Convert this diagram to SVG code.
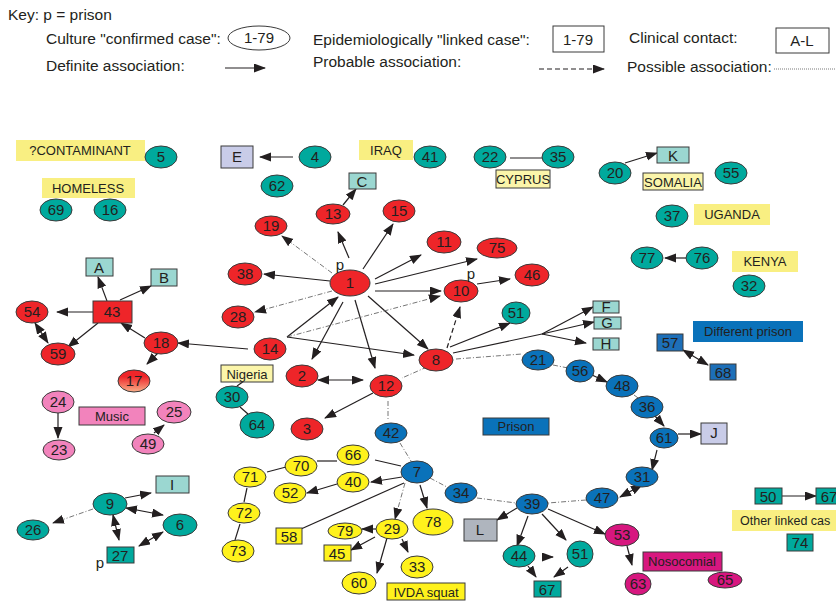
<svg xmlns="http://www.w3.org/2000/svg" width="836" height="604" viewBox="0 0 836 604">
<defs>
<marker id="ah" markerWidth="12" markerHeight="10" refX="11" refY="4.5" orient="auto-start-reverse" markerUnits="userSpaceOnUse"><path d="M0,0 L12,4.5 L0,9 z" fill="#231F20"/></marker>
<linearGradient id="g17" x1="0" y1="0" x2="0" y2="1"><stop offset="0.3" stop-color="#EE2529"/><stop offset="1" stop-color="#F9B08A"/></linearGradient>
</defs>
<style>
text{font-family:"Liberation Sans",Arial,sans-serif;fill:#231F20}
.k{font-size:15.5px}
.n{font-size:15px;text-anchor:middle}
.l{font-size:13px;text-anchor:middle}
ellipse,.bx{stroke:#3a3a3a;stroke-width:1}
.r{fill:#EE2529}.t{fill:#00A99D}.b{fill:#0A72BA}.y{fill:#FFF21C}.pk{fill:#F283BC}.mg{fill:#D7177F}
.lt{fill:#9BD7D1}.lv{fill:#C9CCE8}.gr{fill:#AFB5BE}.bb{fill:#1D6FB8}
.hl{fill:#F9EF82}
.cy{fill:#FBF5AA;stroke:#3a3a3a;stroke-width:1}
.ln{stroke:#231F20;stroke-width:1.2;fill:none}
.a{marker-end:url(#ah)}
.d{marker-start:url(#ah);marker-end:url(#ah)}
.pr{stroke-dasharray:5 3}
.ps{stroke:#666;stroke-width:0.9;stroke-dasharray:5 2 1 2}
</style>

<g id="key">
<text class="k" x="8" y="20">Key: p = prison</text>
<text class="k" x="46" y="44">Culture "confirmed case":</text>
<ellipse cx="259" cy="38" rx="31" ry="12" fill="#fff"/>
<text class="n" x="259" y="43">1-79</text>
<text class="k" x="313" y="45">Epidemiologically "linked case":</text>
<rect x="553" y="26" width="51" height="26" fill="#fff" stroke="#3a3a3a"/>
<text class="n" x="578" y="45">1-79</text>
<text class="k" x="629" y="43">Clinical contact:</text>
<rect x="776" y="28" width="53" height="25" fill="#fff" stroke="#3a3a3a"/>
<text class="n" x="802" y="46">A-L</text>
<text class="k" x="46" y="71">Definite association:</text>
<line class="ln a" x1="225" y1="68" x2="265" y2="68"/>
<text class="k" x="313" y="67">Probable association:</text>
<line class="ln a pr" x1="539" y1="69" x2="604" y2="69"/>
<text class="k" x="627" y="72">Possible association:</text>
<line x1="774" y1="69" x2="836" y2="69" stroke="#555" stroke-width="0.8" stroke-dasharray="1 1"/>
</g>

<g id="connectors">
<line class="ln a" x1="293" y1="157" x2="260" y2="157"/>
<line class="ln" x1="510" y1="158" x2="553" y2="158"/>
<line class="ln a" x1="625" y1="163" x2="657" y2="153"/>
<line class="ln a" x1="686" y1="258" x2="665" y2="258"/>
<line class="ln a" x1="343" y1="205" x2="356" y2="189"/>
<line class="ln a ps" x1="332" y1="273" x2="282" y2="236"/>
<line class="ln a" x1="349" y1="258" x2="338" y2="232"/>
<line class="ln a" x1="363" y1="269" x2="393" y2="224"/>
<line class="ln a" x1="375" y1="279" x2="421" y2="255"/>
<line class="ln a" x1="375" y1="284" x2="477" y2="259"/>
<line class="ln a" x1="375" y1="291" x2="441" y2="291"/>
<line class="ln a" x1="330" y1="281" x2="264" y2="274"/>
<line class="ln a ps" x1="332" y1="291" x2="255" y2="312"/>
<line class="ln a" x1="368" y1="296" x2="428" y2="349"/>
<line class="ln a" x1="355" y1="300" x2="375" y2="368"/>
<line class="ln a" x1="343" y1="302" x2="312" y2="359"/>
<line class="ln a" x1="287" y1="337" x2="338" y2="297"/>
<line class="ln a ps" x1="287" y1="337" x2="440" y2="296"/>
<line class="ln a" x1="287" y1="337" x2="414" y2="355"/>
<line class="ln a" x1="248" y1="349" x2="178" y2="343"/>
<line class="ln a" x1="145" y1="338" x2="121" y2="323"/>
<line class="ln a" x1="158" y1="353" x2="147" y2="364"/>
<line class="ln a" x1="93" y1="312" x2="57" y2="312"/>
<line class="ln a" x1="98" y1="323" x2="68" y2="347"/>
<line class="ln a" x1="107" y1="301" x2="98" y2="277"/>
<line class="ln a" x1="120" y1="300" x2="151" y2="286"/>
<line class="ln d" x1="35" y1="323" x2="48" y2="343"/>
<line class="ln a" x1="477" y1="284" x2="510" y2="279"/>
<line class="ln a pr" x1="447" y1="348" x2="460" y2="307"/>
<line class="ln a" x1="450" y1="347" x2="510" y2="323"/>
<line class="ln" x1="453" y1="353" x2="542" y2="334"/>
<line class="ln a" x1="542" y1="334" x2="593" y2="307"/>
<line class="ln a" x1="542" y1="334" x2="594" y2="322"/>
<line class="ln a" x1="542" y1="334" x2="586" y2="343"/>
<line class="ln ps" x1="456" y1="359" x2="522" y2="354"/>
<line class="ln ps" x1="427" y1="367" x2="402" y2="378"/>
<line class="ln d" x1="318" y1="380" x2="363" y2="380"/>
<line class="ln a" x1="373" y1="393" x2="325" y2="418"/>
<line class="ln ps" x1="388" y1="401" x2="388" y2="421"/>
<line class="ln ps" x1="400" y1="443" x2="411" y2="461"/>
<line class="ln ps" x1="553" y1="365" x2="568" y2="368"/>
<line class="ln a" x1="592" y1="375" x2="607" y2="382"/>
<line class="ln ps" x1="634" y1="395" x2="641" y2="400"/>
<line class="ln a" x1="655" y1="416" x2="664" y2="426"/>
<line class="ln a" x1="678" y1="434" x2="701" y2="434"/>
<line class="ln a" x1="657" y1="450" x2="652" y2="470"/>
<line class="ln d" x1="620" y1="497" x2="642" y2="485"/>
<line class="ln ps" x1="586" y1="500" x2="548" y2="503"/>
<line class="ln ps" x1="430" y1="478" x2="447" y2="487"/>
<line class="ln ps" x1="477" y1="498" x2="516" y2="503"/>
<line class="ln a" x1="517" y1="508" x2="497" y2="520"/>
<line class="ln a" x1="528" y1="516" x2="517" y2="546"/>
<line class="ln a" x1="542" y1="514" x2="566" y2="540"/>
<line class="ln a" x1="548" y1="509" x2="605" y2="534"/>
<line class="ln a" x1="543" y1="557" x2="553" y2="557"/>
<line class="ln a" x1="528" y1="566" x2="536" y2="577"/>
<line class="ln a" x1="568" y1="567" x2="554" y2="577"/>
<line class="ln a" x1="627" y1="546" x2="632" y2="565"/>
<line class="ln a" x1="782" y1="496" x2="816" y2="496"/>
<line class="ln a" x1="402" y1="477" x2="371" y2="482"/>
<line class="ln a" x1="337" y1="484" x2="307" y2="493"/>
<line class="ln" x1="401" y1="466" x2="375" y2="460"/>
<line class="ln" x1="317" y1="461" x2="337" y2="461"/>
<line class="ln" x1="267" y1="472" x2="286" y2="467"/>
<line class="ln" x1="247" y1="488" x2="244" y2="502"/>
<line class="ln" x1="240" y1="524" x2="235" y2="540"/>
<line class="ln" x1="404" y1="483" x2="301" y2="529"/>
<line class="ln a ps" x1="405" y1="483" x2="395" y2="519"/>
<line class="ln a" x1="420" y1="485" x2="427" y2="508"/>
<line class="ln a" x1="376" y1="529" x2="362" y2="529"/>
<line class="ln a" x1="375" y1="537" x2="351" y2="550"/>
<line class="ln a" x1="387" y1="538" x2="377" y2="573"/>
<line class="ln a" x1="402" y1="539" x2="408" y2="552"/>
<line class="ln a" x1="125" y1="498" x2="151" y2="493"/>
<line class="ln a ps" x1="93" y1="509" x2="53" y2="523"/>
<line class="ln d" x1="126" y1="508" x2="163" y2="515"/>
<line class="ln d" x1="113" y1="515" x2="119" y2="540"/>
<line class="ln d" x1="139" y1="546" x2="163" y2="532"/>
<line class="ln a" x1="58" y1="413" x2="58" y2="438"/>
<line class="ln a" x1="154" y1="433" x2="164" y2="425"/>
<line class="ln" x1="237" y1="386" x2="244" y2="381"/>
<line class="ln" x1="240" y1="407" x2="248" y2="414"/>
<line class="ln d" x1="683" y1="350" x2="708" y2="365"/>
</g>

<g id="lbl-contaminant"><rect class="hl" x="16" y="140" width="129" height="21"/><text class="l" x="80" y="155">?CONTAMINANT</text></g>
<g id="lbl-homeless"><rect class="hl" x="42" y="178" width="93" height="20"/><text class="l" x="88" y="193">HOMELESS</text></g>
<g id="lbl-iraq"><rect class="hl" x="359" y="140" width="54" height="20"/><text class="l" x="386" y="155">IRAQ</text></g>
<g id="lbl-cyprus"><rect class="cy" x="496" y="170" width="54" height="18"/><text class="l" x="523" y="184">CYPRUS</text></g>
<g id="lbl-somalia"><rect class="cy" x="643" y="173" width="60" height="17"/><text class="l" x="673" y="187">SOMALIA</text></g>
<g id="lbl-uganda"><rect class="hl" x="694" y="204" width="76" height="21"/><text class="l" x="732" y="219">UGANDA</text></g>
<g id="lbl-kenya"><rect class="hl" x="732" y="251" width="66" height="21"/><text class="l" x="765" y="266">KENYA</text></g>
<g id="lbl-diffprison"><rect class="b" x="693" y="321" width="110" height="21"/><text class="l" x="748" y="336">Different prison</text></g>
<g id="lbl-prison"><rect class="b bx" x="483" y="418" width="66" height="17"/><text class="l" x="516" y="431">Prison</text></g>
<g id="lbl-nigeria"><rect class="cy" x="221" y="365" width="52" height="17"/><text class="l" x="247" y="379">Nigeria</text></g>
<g id="lbl-music"><rect class="pk bx" x="79" y="407" width="66" height="18"/><text class="l" x="112" y="421">Music</text></g>
<g id="lbl-nosocomial"><rect class="mg bx" x="643" y="552" width="79" height="19"/><text class="l" x="682" y="566">Nosocomial</text></g>
<g id="lbl-ivda"><rect class="y bx" x="387" y="583" width="78" height="17"/><text class="l" x="426" y="597">IVDA squat</text></g>
<g id="lbl-other"><rect class="hl" x="732" y="510" width="110" height="21"/><text x="740" y="525" style="font-size:12.5px">Other linked cas</text></g>

<g id="n5"><ellipse class="t" cx="161" cy="157" rx="16" ry="11"/><text class="n" x="161" y="162">5</text></g>
<g id="n69"><ellipse class="t" cx="56" cy="210" rx="16" ry="11"/><text class="n" x="56" y="215">69</text></g>
<g id="n16"><ellipse class="t" cx="110" cy="210" rx="16" ry="11"/><text class="n" x="110" y="215">16</text></g>
<g id="nE"><rect class="lv bx" x="221" y="146" width="32" height="22"/><text class="n" x="237" y="162">E</text></g>
<g id="n4"><ellipse class="t" cx="315" cy="157" rx="16" ry="11"/><text class="n" x="315" y="162">4</text></g>
<g id="n62"><ellipse class="t" cx="277" cy="186" rx="16" ry="11"/><text class="n" x="277" y="191">62</text></g>
<g id="n41"><ellipse class="t" cx="430" cy="157" rx="16" ry="11"/><text class="n" x="430" y="162">41</text></g>
<g id="n22"><ellipse class="t" cx="490" cy="157" rx="16" ry="11"/><text class="n" x="490" y="162">22</text></g>
<g id="n35"><ellipse class="t" cx="558" cy="157" rx="16" ry="11"/><text class="n" x="558" y="162">35</text></g>
<g id="n20"><ellipse class="t" cx="615" cy="173" rx="16" ry="11"/><text class="n" x="615" y="178">20</text></g>
<g id="nK"><rect class="lt bx" x="657" y="147" width="32" height="16"/><text class="n" x="673" y="161">K</text></g>
<g id="n55"><ellipse class="t" cx="731" cy="173" rx="16" ry="11"/><text class="n" x="731" y="178">55</text></g>
<g id="n37"><ellipse class="t" cx="672" cy="216" rx="16" ry="11"/><text class="n" x="672" y="221">37</text></g>
<g id="n77"><ellipse class="t" cx="647" cy="258" rx="16" ry="11"/><text class="n" x="647" y="263">77</text></g>
<g id="n76"><ellipse class="t" cx="702" cy="258" rx="16" ry="11"/><text class="n" x="702" y="263">76</text></g>
<g id="n32"><ellipse class="t" cx="749" cy="286" rx="16" ry="11"/><text class="n" x="749" y="291">32</text></g>

<g id="n1"><ellipse class="r" cx="350" cy="283" rx="20" ry="13"/><text class="n" x="350" y="288">1</text><text class="n" x="340" y="270">p</text></g>
<g id="n19"><ellipse class="r" cx="271" cy="226" rx="16" ry="10"/><text class="n" x="271" y="231">19</text></g>
<g id="n13"><ellipse class="r" cx="333" cy="214" rx="17" ry="10"/><text class="n" x="333" y="219">13</text></g>
<g id="nC"><rect class="lt bx" x="349" y="173" width="27" height="16"/><text class="n" x="362" y="187">C</text></g>
<g id="n15"><ellipse class="r" cx="399" cy="211" rx="16" ry="11"/><text class="n" x="399" y="216">15</text></g>
<g id="n38"><ellipse class="r" cx="245" cy="274" rx="17" ry="11"/><text class="n" x="245" y="279">38</text></g>
<g id="n11"><ellipse class="r" cx="444" cy="242" rx="17" ry="11"/><text class="n" x="444" y="247">11</text></g>
<g id="n75"><ellipse class="r" cx="497" cy="248" rx="20" ry="10"/><text class="n" x="497" y="253">75</text></g>
<g id="n46"><ellipse class="r" cx="532" cy="275" rx="17" ry="11"/><text class="n" x="532" y="280">46</text></g>
<g id="n10"><ellipse class="r" cx="461" cy="291" rx="17" ry="11"/><text class="n" x="461" y="296">10</text><text class="n" x="471" y="279">p</text></g>
<g id="n28"><ellipse class="r" cx="238" cy="317" rx="16" ry="11"/><text class="n" x="238" y="322">28</text></g>
<g id="n14"><ellipse class="r" cx="270" cy="349" rx="16" ry="11"/><text class="n" x="270" y="354">14</text></g>
<g id="n18"><ellipse class="r" cx="161" cy="343" rx="17" ry="11"/><text class="n" x="161" y="348">18</text></g>
<g id="n43"><rect class="r bx" x="93" y="301" width="39" height="22"/><text class="n" x="112" y="317">43</text></g>
<g id="nA"><rect class="lt bx" x="86" y="258" width="27" height="18"/><text class="n" x="99" y="273">A</text></g>
<g id="nB"><rect class="lt bx" x="151" y="269" width="26" height="17"/><text class="n" x="164" y="283">B</text></g>
<g id="n54"><ellipse class="r" cx="32" cy="312" rx="16" ry="11"/><text class="n" x="32" y="317">54</text></g>
<g id="n59"><ellipse class="r" cx="58" cy="354" rx="17" ry="11"/><text class="n" x="58" y="359">59</text></g>
<g id="n17"><ellipse cx="134" cy="381" rx="16" ry="11" fill="url(#g17)"/><text class="n" x="134" y="386">17</text></g>
<g id="n2"><ellipse class="r" cx="302" cy="376" rx="16" ry="11"/><text class="n" x="302" y="381">2</text></g>
<g id="n12"><ellipse class="r" cx="386" cy="386" rx="16" ry="11"/><text class="n" x="386" y="391">12</text></g>
<g id="n3"><ellipse class="r" cx="307" cy="429" rx="16" ry="11"/><text class="n" x="307" y="434">3</text></g>
<g id="n8"><ellipse class="r" cx="436" cy="360" rx="17" ry="11"/><text class="n" x="436" y="365">8</text></g>
<g id="n51a"><ellipse class="t" cx="516" cy="313" rx="14" ry="11"/><text class="n" x="516" y="318">51</text></g>
<g id="nF"><rect class="lt bx" x="593" y="301" width="26" height="12"/><text class="n" x="606" y="312">F</text></g>
<g id="nG"><rect class="lt bx" x="594" y="317" width="27" height="12"/><text class="n" x="607" y="328">G</text></g>
<g id="nH"><rect class="lt bx" x="593" y="338" width="26" height="12"/><text class="n" x="606" y="349">H</text></g>
<g id="n57"><rect class="bb bx" x="657" y="334" width="26" height="17"/><text class="n" x="670" y="348">57</text></g>
<g id="n68"><rect class="bb bx" x="710" y="364" width="26" height="16"/><text class="n" x="723" y="378">68</text></g>
<g id="n21"><ellipse class="b" cx="538" cy="360" rx="16" ry="10"/><text class="n" x="538" y="365">21</text></g>
<g id="n56"><ellipse class="b" cx="580" cy="371" rx="14" ry="11"/><text class="n" x="580" y="376">56</text></g>
<g id="n48"><ellipse class="b" cx="622" cy="386" rx="16" ry="11"/><text class="n" x="622" y="391">48</text></g>
<g id="n36"><ellipse class="b" cx="647" cy="407" rx="16" ry="11"/><text class="n" x="647" y="412">36</text></g>
<g id="n61"><ellipse class="b" cx="664" cy="438" rx="14" ry="10"/><text class="n" x="664" y="443">61</text></g>
<g id="nJ"><rect class="lv bx" x="701" y="423" width="26" height="21"/><text class="n" x="714" y="438">J</text></g>
<g id="n31"><ellipse class="b" cx="642" cy="477" rx="16" ry="10"/><text class="n" x="642" y="482">31</text></g>
<g id="n47"><ellipse class="b" cx="602" cy="498" rx="16" ry="10"/><text class="n" x="602" y="503">47</text></g>
<g id="n39"><ellipse class="b" cx="532" cy="504" rx="16" ry="10"/><text class="n" x="532" y="509">39</text></g>
<g id="n34"><ellipse class="b" cx="461" cy="493" rx="16" ry="10"/><text class="n" x="461" y="498">34</text></g>
<g id="n42"><ellipse class="b" cx="391" cy="433" rx="16" ry="10"/><text class="n" x="391" y="438">42</text></g>
<g id="n7"><ellipse class="b" cx="417" cy="472" rx="16" ry="11"/><text class="n" x="417" y="477">7</text></g>
<g id="nL"><rect class="gr bx" x="464" y="519" width="33" height="22"/><text class="n" x="480" y="535">L</text></g>
<g id="n44"><ellipse class="t" cx="519" cy="556" rx="16" ry="11"/><text class="n" x="519" y="561">44</text></g>
<g id="n51b"><ellipse class="t" cx="580" cy="554" rx="13" ry="13"/><text class="n" x="580" y="559">51</text></g>
<g id="n67b"><rect class="t bx" x="534" y="581" width="27" height="16"/><text class="n" x="547" y="595">67</text></g>
<g id="n53"><ellipse class="mg" cx="622" cy="535" rx="17" ry="11"/><text class="n" x="622" y="540">53</text></g>
<g id="n63"><ellipse class="mg" cx="638" cy="584" rx="13" ry="11"/><text class="n" x="638" y="589">63</text></g>
<g id="n65"><ellipse class="mg" cx="725" cy="580" rx="17" ry="8"/><text class="n" x="725" y="585">65</text></g>
<g id="n50"><rect class="t bx" x="755" y="488" width="27" height="16"/><text class="n" x="768" y="502">50</text></g>
<g id="n67r"><rect class="t bx" x="816" y="488" width="27" height="16"/><text class="n" x="829" y="502">67</text></g>
<g id="n74"><rect class="t bx" x="787" y="534" width="26" height="17"/><text class="n" x="800" y="548">74</text></g>

<g id="n30"><ellipse class="t" cx="232" cy="397" rx="16" ry="11"/><text class="n" x="232" y="402">30</text></g>
<g id="n64"><ellipse class="t" cx="257" cy="425" rx="17" ry="13"/><text class="n" x="257" y="430">64</text></g>
<g id="n24"><ellipse class="pk" cx="58" cy="402" rx="16" ry="11"/><text class="n" x="58" y="407">24</text></g>
<g id="n23"><ellipse class="pk" cx="59" cy="450" rx="16" ry="10"/><text class="n" x="59" y="455">23</text></g>
<g id="n25"><ellipse class="pk" cx="174" cy="412" rx="17" ry="11"/><text class="n" x="174" y="417">25</text></g>
<g id="n49"><ellipse class="pk" cx="148" cy="444" rx="16" ry="10"/><text class="n" x="148" y="449">49</text></g>

<g id="n66"><ellipse class="y" cx="353" cy="455" rx="16" ry="10"/><text class="n" x="353" y="460">66</text></g>
<g id="n70"><ellipse class="y" cx="301" cy="466" rx="16" ry="10"/><text class="n" x="301" y="471">70</text></g>
<g id="n71"><ellipse class="y" cx="250" cy="477" rx="16" ry="10"/><text class="n" x="250" y="482">71</text></g>
<g id="n40"><ellipse class="y" cx="353" cy="482" rx="16" ry="10"/><text class="n" x="353" y="487">40</text></g>
<g id="n52"><ellipse class="y" cx="290" cy="493" rx="16" ry="10"/><text class="n" x="290" y="498">52</text></g>
<g id="n72"><ellipse class="y" cx="244" cy="513" rx="16" ry="10"/><text class="n" x="244" y="518">72</text></g>
<g id="n73"><ellipse class="y" cx="238" cy="551" rx="16" ry="11"/><text class="n" x="238" y="556">73</text></g>
<g id="n58"><rect class="y bx" x="276" y="528" width="26" height="16"/><text class="n" x="289" y="542">58</text></g>
<g id="n78"><ellipse class="y" cx="433" cy="522" rx="20" ry="13"/><text class="n" x="433" y="527">78</text></g>
<g id="n29"><ellipse class="y" cx="392" cy="529" rx="16" ry="10"/><text class="n" x="392" y="534">29</text></g>
<g id="n79"><ellipse class="y" cx="345" cy="531" rx="17" ry="8"/><text class="n" x="345" y="536">79</text></g>
<g id="n45"><rect class="y bx" x="324" y="545" width="27" height="16"/><text class="n" x="337" y="559">45</text></g>
<g id="n33"><ellipse class="y" cx="417" cy="567" rx="16" ry="11"/><text class="n" x="417" y="572">33</text></g>
<g id="n60"><ellipse class="y" cx="359" cy="583" rx="17" ry="11"/><text class="n" x="359" y="588">60</text></g>

<g id="n9"><ellipse class="t" cx="110" cy="504" rx="17" ry="11"/><text class="n" x="110" y="509">9</text></g>
<g id="nI"><rect class="lt bx" x="156" y="476" width="33" height="17"/><text class="n" x="172" y="490">I</text></g>
<g id="n26"><ellipse class="t" cx="33" cy="530" rx="16" ry="10"/><text class="n" x="33" y="535">26</text></g>
<g id="n6"><ellipse class="t" cx="180" cy="525" rx="17" ry="11"/><text class="n" x="180" y="530">6</text></g>
<g id="n27"><rect class="t bx" x="107" y="547" width="27" height="16"/><text class="n" x="120" y="561">27</text><text class="n" x="100" y="568">p</text></g>
</svg>
